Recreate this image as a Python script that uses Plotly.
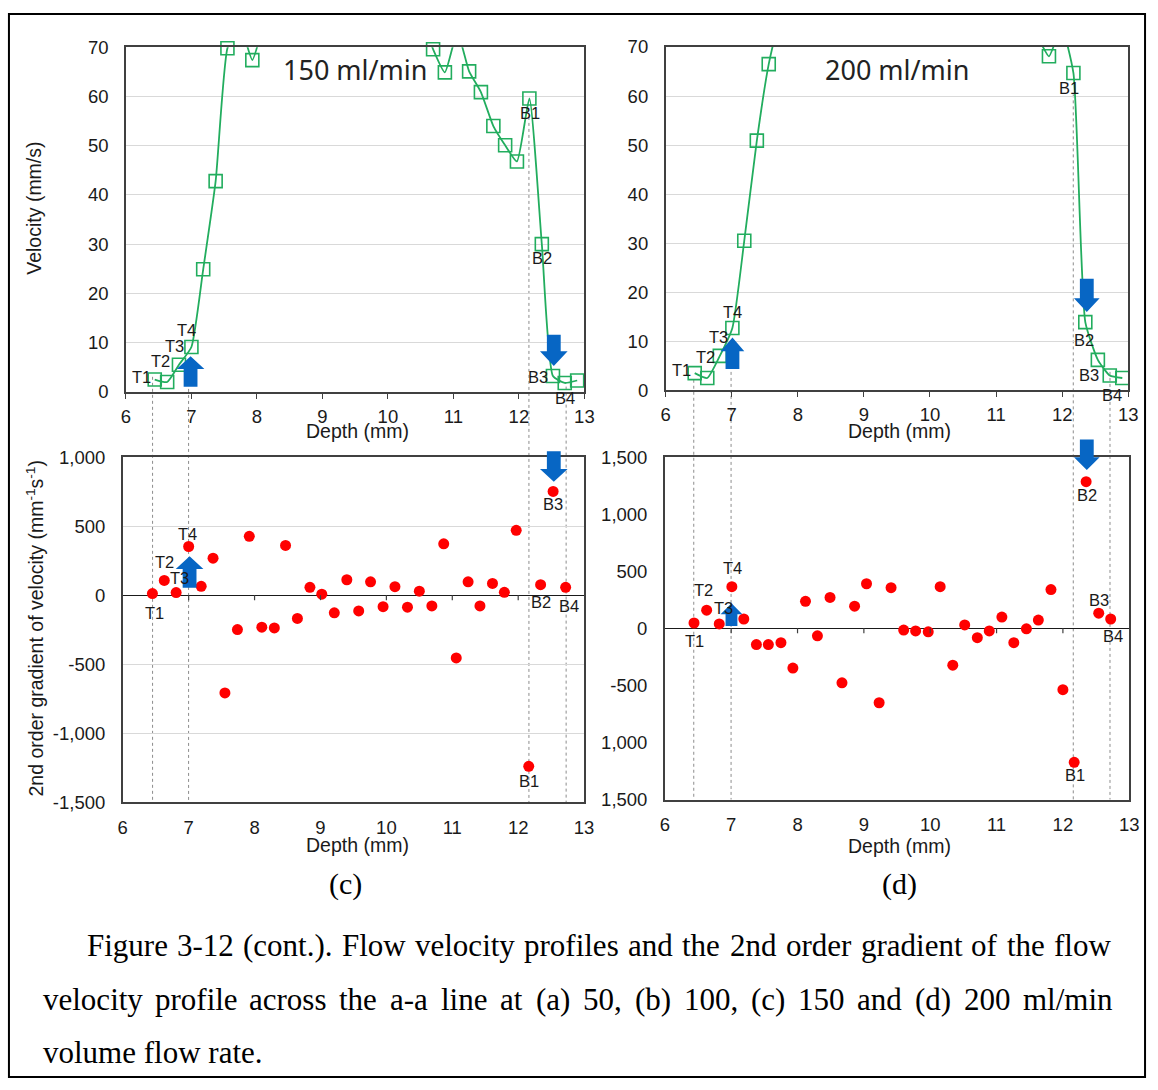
import plotly.graph_objects as go

W, H = 1158, 1090

# ---------------- data ----------------
depth_150 = [6.44, 6.63, 6.81, 7.00, 7.18, 7.37, 7.55, 7.74, 7.93, 8.11, 8.30, 8.48,
             8.67, 8.85, 9.04, 9.22, 9.41, 9.59, 9.78, 9.96, 10.15, 10.33, 10.52, 10.69,
             10.87, 11.06, 11.24, 11.42, 11.61, 11.79, 11.97, 12.16, 12.35, 12.52, 12.70, 12.89]
vel_150 = [2.5, 2.0, 5.5, 9.1, 24.9, 42.8, 69.8, 74.5, 67.4, 75, 80, 85,
           88, 90, 92, 93, 93, 92, 91, 89, 86, 82, 76, 69.6,
           64.9, 73, 65.1, 60.9, 54.0, 50.1, 46.8, 59.6, 30.0, 3.2, 1.8, 2.3]

grad_depth_150 = [6.45, 6.63, 6.81, 7.00, 7.19, 7.37, 7.55, 7.74, 7.92, 8.11, 8.30, 8.47,
                  8.65, 8.84, 9.02, 9.21, 9.40, 9.58, 9.76, 9.95, 10.13, 10.32, 10.50, 10.69,
                  10.87, 11.06, 11.24, 11.42, 11.61, 11.79, 11.97, 12.16, 12.34, 12.53, 12.72]
grad_150 = [12, 107, 19, 353, 64, 268, -708, -249, 427, -232, -237, 361,
            -168, 57, 7, -128, 112, -114, 97, -83, 62, -87, 29, -78,
            372, -455, 97, -78, 85, 21, 470, -1240, 76, 752, 57]

depth_200 = [6.44, 6.63, 6.82, 7.01, 7.19, 7.38, 7.56, 7.75, 7.93, 8.12, 8.30, 8.49,
             8.67, 8.86, 9.04, 9.23, 9.41, 9.60, 9.78, 9.97, 10.15, 10.34, 10.52, 10.71,
             10.89, 11.08, 11.26, 11.45, 11.63, 11.80, 11.99, 12.17, 12.35, 12.54, 12.72, 12.91]
vel_200 = [3.5, 2.5, 7.0, 12.7, 30.5, 50.9, 66.5, 77, 85, 90, 94, 97,
           99, 100, 101, 101, 101, 100, 99, 97, 95, 92, 89, 86,
           83, 80, 78, 75, 72, 68.1, 74, 64.7, 13.9, 6.2, 3.0, 2.5]

grad_depth_200 = [6.44, 6.63, 6.82, 7.01, 7.19, 7.38, 7.56, 7.75, 7.93, 8.12, 8.30, 8.49,
                  8.67, 8.86, 9.04, 9.23, 9.41, 9.60, 9.78, 9.97, 10.15, 10.34, 10.52, 10.71,
                  10.89, 11.08, 11.26, 11.45, 11.63, 11.82, 12.00, 12.17, 12.35, 12.54, 12.72]
grad_200 = [47, 159, 39, 365, 82, -142, -142, -125, -348, 237, -65, 271,
            -477, 194, 391, -652, 357, -15, -22, -30, 365, -323, 30, -82,
            -22, 99, -125, -4, 73, 340, -537, -1174, 1286, 133, 82]

vel_ticks = [0, 10, 20, 30, 40, 50, 60, 70]
grad_ticks_c = [-1500, -1000, -500, 0, 500, 1000]
grad_text_c = ["-1,500", "-1,000", "-500", "0", "500", "1,000"]
grad_ticks_d = [-1500, -1000, -500, 0, 500, 1000, 1500]
grad_text_d = ["1,500", "1,000", "-500", "0", "500", "1,000", "1,500"]
depth_ticks = [6, 7, 8, 9, 10, 11, 12, 13]

GREEN = "#22AD5E"
RED = "#FF0000"
BLUE = "#0766C4"
FRAME = "#404040"
TXT = "#1a1a1a"
FONT = "Liberation Sans, Arial, sans-serif"
TICK_SIZE = 18.5
TITLE_SIZE = 19.5
LBL_SIZE = 16.5


def fx(px):
    return px / W


def fy(py):
    return 1 - py / H


# plot boxes in pixels: (left, right, top, bottom)
box = {
    "tl": (122.5, 587.0, 37.0, 388.3),
    "bl": (119.3, 586.7, 455.0, 806.7),
    "tr": (669.3, 1138.0, 36.7, 386.7),
    "br": (668.5, 1139.0, 455.0, 804.0),
}

fig = go.Figure()

# velocity lines (clipped) + markers
for d, v, xa, ya in [(depth_150, vel_150, "x", "y"), (depth_200, vel_200, "x3", "y3")]:
    fig.add_trace(go.Scatter(x=d, y=v, mode="lines", xaxis=xa, yaxis=ya,
                             line=dict(color=GREEN, width=1.8, shape="spline", smoothing=0.5),
                             showlegend=False, hoverinfo="skip"))
    mx = [a for a, b in zip(d, v) if b <= 71]
    my = [b for b in v if b <= 71]
    fig.add_trace(go.Scatter(x=mx, y=my, mode="markers", xaxis=xa, yaxis=ya, cliponaxis=False,
                             marker=dict(symbol="square-open", size=13, color=GREEN,
                                         line=dict(color=GREEN, width=1.6)),
                             showlegend=False))

for d, g, xa, ya in [(grad_depth_150, grad_150, "x2", "y2"), (grad_depth_200, grad_200, "x4", "y4")]:
    fig.add_trace(go.Scatter(x=d, y=g, mode="markers", xaxis=xa, yaxis=ya, cliponaxis=False,
                             marker=dict(symbol="circle", size=11, color=RED, line=dict(width=0)),
                             showlegend=False))


def xax(b, anchor, ticks, standoff):
    l, r, t, bo = b
    return dict(domain=[fx(l), fx(r)], range=[6, 13], anchor=anchor, tickvals=depth_ticks,
                showgrid=False, zeroline=False, showline=True, mirror=True, linecolor=FRAME,
                linewidth=1.5, ticks=ticks, ticklen=5, tickcolor=FRAME, tickwidth=1.2,
                tickfont=dict(family=FONT, size=TICK_SIZE, color=TXT), ticklabelstandoff=standoff,
                fixedrange=True)


def yax(b, anchor, rng, tickvals, ticktext, grid, zeroline):
    l, r, t, bo = b
    return dict(domain=[fy(bo), fy(t)], range=rng, anchor=anchor, tickvals=tickvals,
                ticktext=ticktext, showgrid=grid, gridcolor="#d9d9d9", gridwidth=1.2,
                zeroline=zeroline, zerolinecolor="#1a1a1a", zerolinewidth=1.4,
                showline=True, mirror=True, linecolor=FRAME, linewidth=1.5, ticks="",
                tickfont=dict(family=FONT, size=TICK_SIZE, color=TXT), ticklabelstandoff=12,
                fixedrange=True)


fig.update_layout(
    width=W, height=H, margin=dict(l=0, r=0, t=0, b=0),
    paper_bgcolor="white", plot_bgcolor="white", showlegend=False,
    xaxis=xax(box["tl"], "y", "outside", 2),
    yaxis=yax(box["tl"], "x", [0, 70], vel_ticks, [str(t) for t in vel_ticks], True, False),
    xaxis2=xax(box["bl"], "y2", "", 8),
    yaxis2=yax(box["bl"], "x2", [-1500, 1000], grad_ticks_c, grad_text_c, True, True),
    xaxis3=xax(box["tr"], "y3", "outside", 2),
    yaxis3=yax(box["tr"], "x3", [0, 70], vel_ticks, [str(t) for t in vel_ticks], True, False),
    xaxis4=xax(box["br"], "y4", "", 8),
    yaxis4=yax(box["br"], "x4", [-1500, 1500], grad_ticks_d, grad_text_d, False, True),
)

shapes = []

# small tick marks under the zero line in the gradient charts
for xa, ya, ln in [("x2", "y2", 36), ("x4", "y4", 43)]:
    for t in depth_ticks[1:-1]:
        shapes.append(dict(type="line", xref=xa, yref=ya, x0=t, x1=t, y0=0, y1=-ln,
                           line=dict(color=FRAME, width=1.2)))

# dashed guide lines (pixel positions)
guides = [
    (149.5, 373, 806.7), (186.0, 367, 806.7), (530.8, 108, 806.7), (568.5, 383, 806.7),
    (697.8, 376, 804.0), (735.6, 368, 804.0), (1082.3, 85, 804.0), (1119.5, 368, 804.0),
]
for gx, y0, y1 in guides:
    shapes.append(dict(type="line", xref="paper", yref="paper", x0=fx(gx), x1=fx(gx),
                       y0=fy(y0), y1=fy(y1), line=dict(color="#8c8c8c", width=1, dash="3px,3px"),
                       layer="below"))


def arrow(cx, y_tail, y_headbase, y_tip, sw=7, hw=14):
    pts = [(cx - sw, y_tail), (cx + sw, y_tail), (cx + sw, y_headbase), (cx + hw, y_headbase),
           (cx, y_tip), (cx - hw, y_headbase), (cx - sw, y_headbase)]
    p = "M " + " L ".join(f"{fx(a):.5f},{fy(b):.5f}" for a, b in pts) + " Z"
    return dict(type="path", xref="paper", yref="paper", path=p, fillcolor=BLUE,
                line=dict(width=0), layer="above")


shapes += [
    arrow(188, 383, 365, 352),          # top-left up
    arrow(556, 330, 347, 362),          # top-left down
    arrow(187, 588, 569, 556),          # bottom-left up
    arrow(556, 449, 467, 480),          # bottom-left down
    arrow(737, 365, 347, 333, 7, 12),   # top-right up
    arrow(1096, 273, 293, 307, 7, 13),  # top-right down
    arrow(736, 627, 615, 604, 6, 11),   # bottom-right up
    arrow(1096, 437, 455, 468, 7, 13),  # bottom-right down
]

# outer border
shapes.append(dict(type="rect", xref="paper", yref="paper", x0=fx(4), x1=fx(1155), y0=fy(1087),
                   y1=fy(3), line=dict(color="black", width=2), fillcolor="rgba(0,0,0,0)"))

fig.update_layout(shapes=shapes)

ann = []


def label(text, px, py, size=LBL_SIZE, family=FONT, color=TXT, xanchor="center", angle=0):
    ann.append(dict(text=text, x=fx(px), y=fy(py), xref="paper", yref="paper", showarrow=False,
                    xanchor=xanchor, yanchor="middle", textangle=angle,
                    font=dict(family=family, size=size, color=color)))


point_labels = [
    ("T1", 138, 373), ("T2", 158, 357), ("T3", 172, 342), ("T4", 184, 325),
    ("B1", 532, 104), ("B2", 544, 252), ("B3", 540, 373), ("B4", 567, 395),
    ("T1", 685, 366), ("T2", 710, 353), ("T3", 723, 332), ("T4", 737, 307),
    ("B1", 1078, 79), ("B2", 1093, 335), ("B3", 1098, 371), ("B4", 1122, 392),
    ("T1", 151, 614), ("T2", 162, 562), ("T3", 177, 578), ("T4", 185, 533),
    ("B1", 531, 785), ("B2", 543, 603), ("B3", 555, 503), ("B4", 571, 607),
    ("T1", 699, 642), ("T2", 708, 590), ("T3", 728, 609), ("T4", 737, 568),
    ("B1", 1084, 779), ("B2", 1096, 493), ("B3", 1108, 601), ("B4", 1123, 637),
]
for t, a, b in point_labels:
    label(t, a, b)

# axis titles
label("Depth (mm)", 357, 428, size=TITLE_SIZE)
label("Depth (mm)", 906, 428, size=TITLE_SIZE)
label("Depth (mm)", 357, 850, size=TITLE_SIZE)
label("Depth (mm)", 906, 851, size=TITLE_SIZE)
label("Velocity (mm/s)", 30, 201, size=TITLE_SIZE, angle=-90)
label("2nd order gradient of velocity (mm<sup>-1</sup>s<sup>-1</sup>)", 30, 630,
      size=TITLE_SIZE, angle=-90)

# flow rate titles
label("150 ml/min", 355, 60, size=27, family="Noto Sans, sans-serif", color="#222222")
label("200 ml/min", 904, 60, size=27, family="Noto Sans, sans-serif", color="#222222")

# ---- caption (justified like the original) ----
SERIF = "Liberation Serif, Times New Roman, serif"
CAP = 31
TIMES_W = {" ": 250, "a": 444, "b": 500, "c": 444, "d": 500, "e": 444, "f": 333, "g": 500,
           "h": 500, "i": 278, "l": 278, "m": 778, "n": 500, "o": 500, "p": 500, "r": 333,
           "s": 389, "t": 278, "u": 500, "v": 500, "w": 722, "y": 500, "F": 556, "(": 333,
           ")": 333, ".": 250, ",": 250, "-": 333, "/": 278}


def tw(s, size):
    return sum(TIMES_W.get(c, 500) for c in s) / 1000 * size


def justify(line, x0, x1, y, size):
    words = line.split(" ")
    widths = [tw(w, size) for w in words]
    gap = (x1 - x0 - sum(widths)) / (len(words) - 1)
    x = x0
    for w, wd in zip(words, widths):
        label(w, x - 1, y, size=size, family=SERIF, color="black", xanchor="left")
        x += wd + gap


label("(c)", 345, 890, size=30, family=SERIF, color="black")
label("(d)", 906, 890, size=30, family=SERIF, color="black")
justify("Figure 3-12 (cont.). Flow velocity profiles and the 2nd order gradient of the flow",
        82, 1119, 953, CAP)
justify("velocity profile across the a-a line at (a) 50, (b) 100, (c) 150 and (d) 200 ml/min",
        37, 1120, 1008, CAP)
label("volume flow rate.", 36, 1062, size=CAP, family=SERIF, color="black", xanchor="left")

fig.update_layout(annotations=ann)

# remove the default body margin right away (synchronously) so the page is exactly W x H
page_fix = ("}); document.documentElement.style.margin='0px'; "
            "document.body.style.margin='0px'; document.body.style.padding='0px'; "
            "document.body.style.overflow='hidden'; (function(){")
fig.write_html("out.html", post_script=page_fix)
